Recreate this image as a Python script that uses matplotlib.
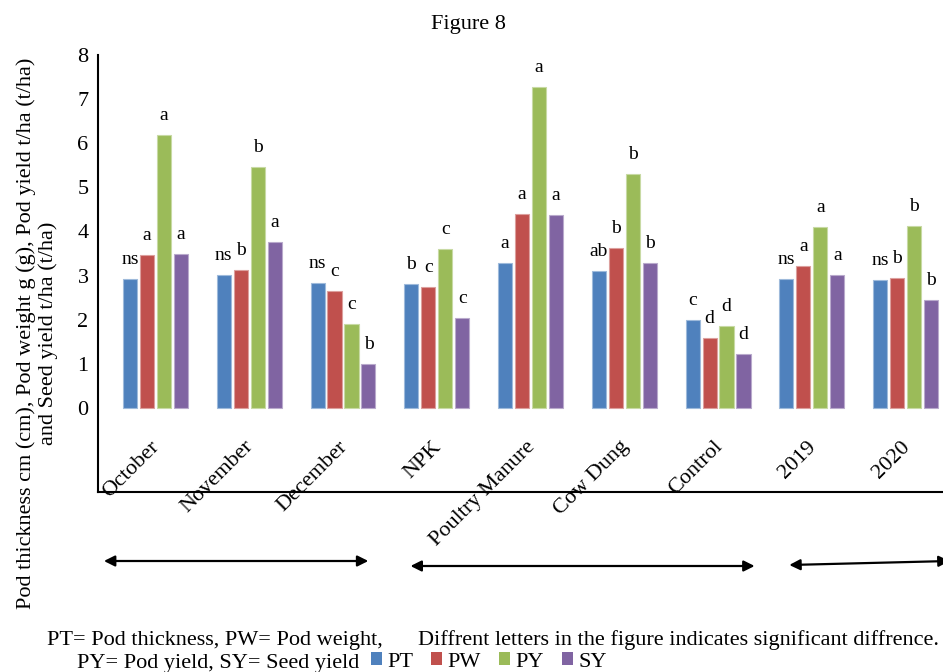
import numpy as np
import matplotlib.pyplot as plt
from matplotlib.patches import Patch
from matplotlib.colors import to_rgb

plt.rcParams['font.family'] = ['Liberation Serif', 'DejaVu Serif']

## data per category
categories = ["October", "November", "December", "NPK", "Poultry Manure",
              "Cow Dung", "Control", "2019", "2020"]
series_names = ["PT", "PW", "PY", "SY"]
pt = [2.92, 3.01, 2.83, 2.81, 3.28, 3.10, 2.00, 2.92, 2.89]
pw = [3.47, 3.13, 2.66, 2.74, 4.40, 3.63, 1.58, 3.22, 2.95]
py = [6.18, 5.46, 1.91, 3.61, 7.28, 5.30, 1.87, 4.10, 4.12]
sy = [3.48, 3.76, 0.99, 2.05, 4.38, 3.29, 1.22, 3.02, 2.45]
## significance letters
pt_letters = ["ns", "ns", "ns", "b", "a", "ab", "c", "ns", "ns"]
pw_letters = ["a", "b", "c", "c", "a", "b", "d", "a", "b"]
py_letters = ["a", "b", "c", "c", "a", "b", "d", "a", "b"]
sy_letters = ["a", "a", "b", "c", "a", "b", "d", "a", "b"]
## bracket arrows under the category groups (data x span)
group_spans = [(-0.55, 2.27), (2.72, 6.39), (6.76, 8.47)]

colors = ["#4F81BD", "#C0504D", "#9BBB59", "#8064A2"]
values = [pt, pw, py, sy]
letters = [pt_letters, pw_letters, py_letters, sy_letters]

W, H = 943, 672
fig = plt.figure(figsize=(W / 100, H / 100), dpi=100)
ax = fig.add_axes([98.3 / W, (H - 491.7) / H, (961.8 - 98.3) / W, (491.7 - 54.7) / H])
ax.set_xlim(-0.61, 8.6)
ax.set_ylim(-1.89, 8)

x = np.arange(len(categories))
step = 0.181
for k, (vals, col, labs) in enumerate(zip(values, colors, letters)):
    xs = x + (k - 1.5) * step
    edge = tuple(0.55 * np.array(to_rgb(col)) + 0.45)
    ax.bar(xs, vals, width=0.15, color=col, edgecolor=edge, linewidth=0.8)
    for xi, v, lab in zip(xs, vals, labs):
        ax.annotate(lab, (xi, v), xytext=(0, 10.8), textcoords="offset points",
                    ha="center", va="baseline", fontsize=14)

## rotated category names sitting above the x axis line
for xi, cat in zip(x, categories):
    ax.text(xi + 0.05, -0.88, cat, rotation=45, rotation_mode="anchor",
            ha="right", va="baseline", fontsize=16)

ax.set_xticks([])
ax.set_yticks(range(0, 9))
ax.tick_params(axis="y", length=0, pad=7, labelsize=16)
for s in ["top", "right"]:
    ax.spines[s].set_visible(False)
for s in ["left", "bottom"]:
    ax.spines[s].set_linewidth(1.5)
    ax.spines[s].set_color("black")

## group brackets
arrow_y = [(1 - 561 / H, 1 - 561 / H), (1 - 566 / H, 1 - 566 / H), (1 - 565 / H, 1 - 561 / H)]
for (x0, x1), (y0, y1) in zip(group_spans, arrow_y):
    ax.annotate("", xy=(x1, y1), xytext=(x0, y0),
                xycoords=("data", "figure fraction"), textcoords=("data", "figure fraction"),
                arrowprops=dict(arrowstyle="<|-|>", color="black", lw=1.6,
                                mutation_scale=16, shrinkA=0, shrinkB=0),
                annotation_clip=False)

fig.text(468 / W, 1 - 25 / H, "Figure 8", ha="center", va="center", fontsize=16)
fig.text(37 / W, 1 - 333 / H,
         "Pod thickness cm (cm), Pod weight g (g), Pod yield t/ha (t/ha)\nand Seed yield t/ha (t/ha)",
         rotation=90, ha="center", va="center", multialignment="center", fontsize=16)

fig.text(47.3 / W, 1 - 645 / H, "PT= Pod thickness, PW= Pod weight,",
         ha="left", va="baseline", fontsize=16)
fig.text(418 / W, 1 - 645 / H, "Diffrent letters in the figure indicates significant diffrence.",
         ha="left", va="baseline", fontsize=16)
fig.text(76.7 / W, 1 - 668 / H, "PY= Pod yield, SY= Seed yield",
         ha="left", va="baseline", fontsize=16)

handles = [Patch(facecolor=c, edgecolor="none") for c in colors]
fig.legend(handles, series_names, loc="center left",
           bbox_to_anchor=(370.7 / W, 1 - 662 / H), bbox_transform=fig.transFigure,
           ncol=4, frameon=False, fontsize=16, borderpad=0, borderaxespad=0,
           handlelength=0.5, handleheight=0.5, handletextpad=0.25, columnspacing=0.8)

fig.savefig("out.png", dpi=100)
